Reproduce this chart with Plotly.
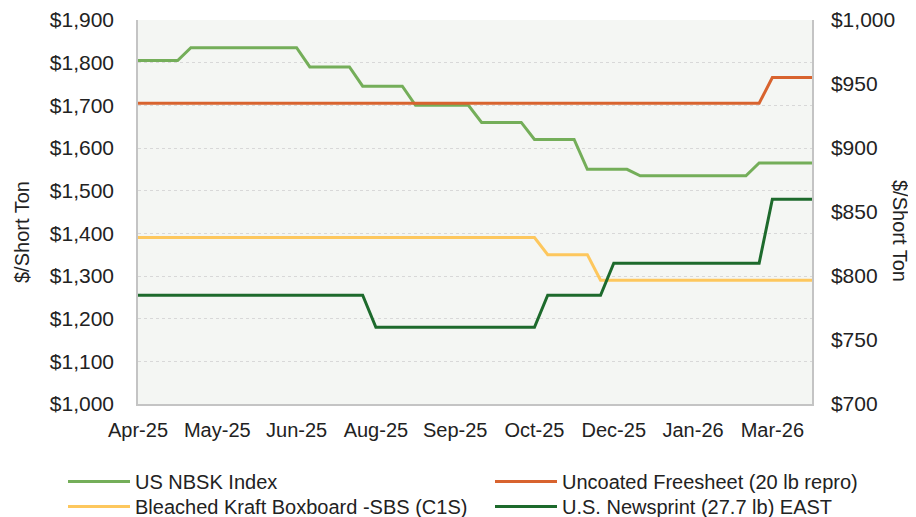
import pandas as pd
import plotly.graph_objects as go

# weekly observations, Apr-25 .. Mar-26
weeks = pd.date_range("2025-04-04", periods=52, freq="7D").strftime("%Y-%m-%d").tolist()
tick_labels = ["Apr-25", "May-25", "Jun-25", "Aug-25", "Sep-25",
               "Oct-25", "Dec-25", "Jan-26", "Mar-26"]
tick_weeks = weeks[::6]

# left axis ($/short ton)
nbsk = [1805, 1805, 1805, 1805, 1835, 1835, 1835, 1835, 1835, 1835,
        1835, 1835, 1835, 1790, 1790, 1790, 1790, 1745, 1745, 1745,
        1745, 1700, 1700, 1700, 1700, 1700, 1660, 1660, 1660, 1660,
        1620, 1620, 1620, 1620, 1550, 1550, 1550, 1550, 1535, 1535,
        1535, 1535, 1535, 1535, 1535, 1535, 1535, 1565, 1565, 1565,
        1565, 1565]
uncoated = [1705, 1705, 1705, 1705, 1705, 1705, 1705, 1705, 1705, 1705,
            1705, 1705, 1705, 1705, 1705, 1705, 1705, 1705, 1705, 1705,
            1705, 1705, 1705, 1705, 1705, 1705, 1705, 1705, 1705, 1705,
            1705, 1705, 1705, 1705, 1705, 1705, 1705, 1705, 1705, 1705,
            1705, 1705, 1705, 1705, 1705, 1705, 1705, 1705, 1765, 1765,
            1765, 1765]
sbs = [1390, 1390, 1390, 1390, 1390, 1390, 1390, 1390, 1390, 1390,
       1390, 1390, 1390, 1390, 1390, 1390, 1390, 1390, 1390, 1390,
       1390, 1390, 1390, 1390, 1390, 1390, 1390, 1390, 1390, 1390,
       1390, 1350, 1350, 1350, 1350, 1290, 1290, 1290, 1290, 1290,
       1290, 1290, 1290, 1290, 1290, 1290, 1290, 1290, 1290, 1290,
       1290, 1290]
# right axis ($/short ton)
newsprint = [785, 785, 785, 785, 785, 785, 785, 785, 785, 785,
             785, 785, 785, 785, 785, 785, 785, 785, 760, 760,
             760, 760, 760, 760, 760, 760, 760, 760, 760, 760,
             760, 785, 785, 785, 785, 785, 810, 810, 810, 810,
             810, 810, 810, 810, 810, 810, 810, 810, 860, 860,
             860, 860]

FONT = "Liberation Sans, Arial, sans-serif"

fig = go.Figure()

# one legend per entry so the 2x2 grid can be placed exactly
fig.add_trace(go.Scatter(x=weeks, y=nbsk, mode="lines", name="US NBSK Index",
                         line=dict(color="#74ae59", width=3), legend="legend"))
fig.add_trace(go.Scatter(x=weeks, y=uncoated, mode="lines",
                         name="Uncoated Freesheet (20 lb repro)",
                         line=dict(color="#d8632e", width=3), legend="legend2"))
fig.add_trace(go.Scatter(x=weeks, y=sbs, mode="lines",
                         name="Bleached Kraft Boxboard -SBS (C1S)",
                         line=dict(color="#fdc75d", width=3), legend="legend3"))
fig.add_trace(go.Scatter(x=weeks, y=newsprint, mode="lines",
                         name="U.S. Newsprint (27.7 lb) EAST", yaxis="y2",
                         line=dict(color="#1d6a2c", width=3), legend="legend4"))

legend_style = dict(
    orientation="v",
    font=dict(family=FONT, size=20, color="#222222"),
    bgcolor="rgba(0,0,0,0)",
    itemwidth=62,
    xanchor="left",
    yanchor="top",
)

col1, col2 = -75 / 674, 352 / 674
row1, row2 = -58 / 384, -83 / 384

# the page body adds an 8px offset, so the figure is drawn 8px smaller
fig.update_layout(
    width=908,
    height=509,
    margin=dict(l=130, r=104, t=12, b=113, autoexpand=False),
    plot_bgcolor="#f4f6f3",
    paper_bgcolor="white",
    font=dict(family=FONT, size=20, color="#222222"),
    showlegend=True,
    legend=dict(legend_style, x=col1, y=row1),
    legend2=dict(legend_style, x=col2, y=row1),
    legend3=dict(legend_style, x=col1, y=row2),
    legend4=dict(legend_style, x=col2, y=row2),
    xaxis=dict(
        type="date",
        range=[weeks[0], weeks[-1]],
        tickvals=tick_weeks,
        ticktext=tick_labels,
        showgrid=False,
        showline=True,
        linecolor="#c4c4c4",
        linewidth=1.5,
        ticks="",
        ticklabelstandoff=7,
        tickfont=dict(size=20),
    ),
    yaxis=dict(
        range=[1000, 1900],
        dtick=100,
        tickprefix="$",
        tickformat=",.0f",
        showgrid=True,
        gridcolor="#d8d8d8",
        griddash="dot",
        gridwidth=1,
        zeroline=False,
        showline=True,
        linecolor="#c4c4c4",
        linewidth=1.5,
        ticks="",
        ticklabelstandoff=18,
        tickfont=dict(size=21),
    ),
    yaxis2=dict(
        overlaying="y",
        side="right",
        range=[700, 1000],
        dtick=50,
        tickprefix="$",
        tickformat=",.0f",
        showgrid=False,
        zeroline=False,
        showline=True,
        linecolor="#c4c4c4",
        linewidth=1.5,
        ticks="",
        ticklabelstandoff=13,
        tickfont=dict(size=21),
    ),
    annotations=[
        dict(text="$/Short Ton", xref="paper", yref="paper",
             x=-116 / 674, y=(392 - 220) / 384, textangle=-90,
             xanchor="center", yanchor="middle",
             showarrow=False, font=dict(size=20)),
        dict(text="$/Short Ton", xref="paper", yref="paper",
             x=1 + 88 / 674, y=(392 - 219) / 384, textangle=90,
             xanchor="center", yanchor="middle",
             showarrow=False, font=dict(size=20)),
    ],
)

fig.write_html("out.html")
